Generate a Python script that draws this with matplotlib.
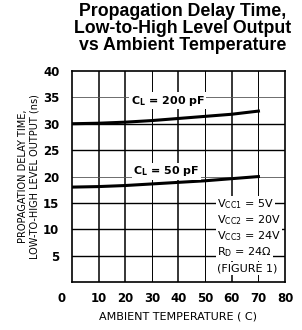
import matplotlib.pyplot as plt
import matplotlib.transforms as mtransforms

# data
temp = [0, 10, 20, 30, 40, 50, 60, 70]
delay_200pf = [30.0, 30.1, 30.3, 30.6, 31.0, 31.4, 31.8, 32.4]
delay_50pf = [18.0, 18.1, 18.3, 18.6, 18.9, 19.2, 19.6, 20.0]
xticks = [0, 10, 20, 30, 40, 50, 60, 70, 80]
yticks = [5, 10, 15, 20, 25, 30, 35, 40]

narrow = ['Liberation Sans Narrow', 'DejaVu Sans']
plt.rcParams['font.family'] = narrow

fig = plt.figure(figsize=(3.02, 3.30), dpi=100)
ax = fig.add_axes([0.238, 0.145, 0.706, 0.640])

ax.set_xlim(0, 80)
ax.set_ylim(0, 40)

# grid lines, some heavier than others like the scan
for x in xticks[1:-1]:
    lw = 1.1 if x in (10, 20, 40, 60) else 0.7
    ax.axvline(x, color='black', lw=lw, zorder=1)
for y in yticks[:-1]:
    lw = 1.0 if y in (30, 25, 15, 10, 5) else 0.6
    c = 'black' if lw > 0.8 else '#555555'
    ax.axhline(y, color=c, lw=lw, zorder=1)

ax.plot(temp, delay_200pf, color='black', lw=2.2, zorder=3)
ax.plot(temp, delay_50pf, color='black', lw=2.2, zorder=3)

for s in ax.spines.values():
    s.set_linewidth(1.2)

ax.set_xticks(xticks)
ax.set_yticks(yticks)
ax.tick_params(axis='y', length=0, labelsize=8.5, pad=9)
ax.tick_params(axis='x', length=0, labelsize=8.5, pad=7)
for lab in ax.get_xticklabels() + ax.get_yticklabels():
    lab.set_fontweight('bold')
# the "0" sits left of the corner in the original
lab0 = ax.get_xticklabels()[0]
lab0.set_transform(lab0.get_transform() + mtransforms.ScaledTranslation(-10 / 100, 0, fig.dpi_scale_trans))

ax.set_xlabel('AMBIENT TEMPERATURE ( C)', fontsize=8, labelpad=5)
ax.set_ylabel('PROPAGATION DELAY TIME,\nLOW-TO-HIGH LEVEL OUTPUT (ns)', fontsize=7, labelpad=2.5, linespacing=1.25)

box = dict(facecolor='white', edgecolor='none', pad=1)
ax.text(22, 33.8, r'C$_\mathregular{L}$ = 200 pF', fontsize=8, fontweight='bold', bbox=box, zorder=4)
ax.text(23, 20.4, r'C$_\mathregular{L}$ = 50 pF', fontsize=8, fontweight='bold', bbox=box, zorder=4)

info = [r'V$_\mathregular{CC1}$ = 5V', r'V$_\mathregular{CC2}$ = 20V', r'V$_\mathregular{CC3}$ = 24V',
        r'R$_\mathregular{D}$ = 24Ω', '(FIGURE 1)']
for i, t in enumerate(info):
    ax.text(54.5, 14.8 - i * 3.05, t, fontsize=8, va='center', ha='left', bbox=box, zorder=4)

fig.text(0.605, 0.99, 'Propagation Delay Time,\nLow-to-High Level Output\nvs Ambient Temperature',
         ha='center', va='top', fontsize=12.8, fontweight='bold', family='Liberation Sans', linespacing=1.0)

fig.savefig('out.png', dpi=100)
